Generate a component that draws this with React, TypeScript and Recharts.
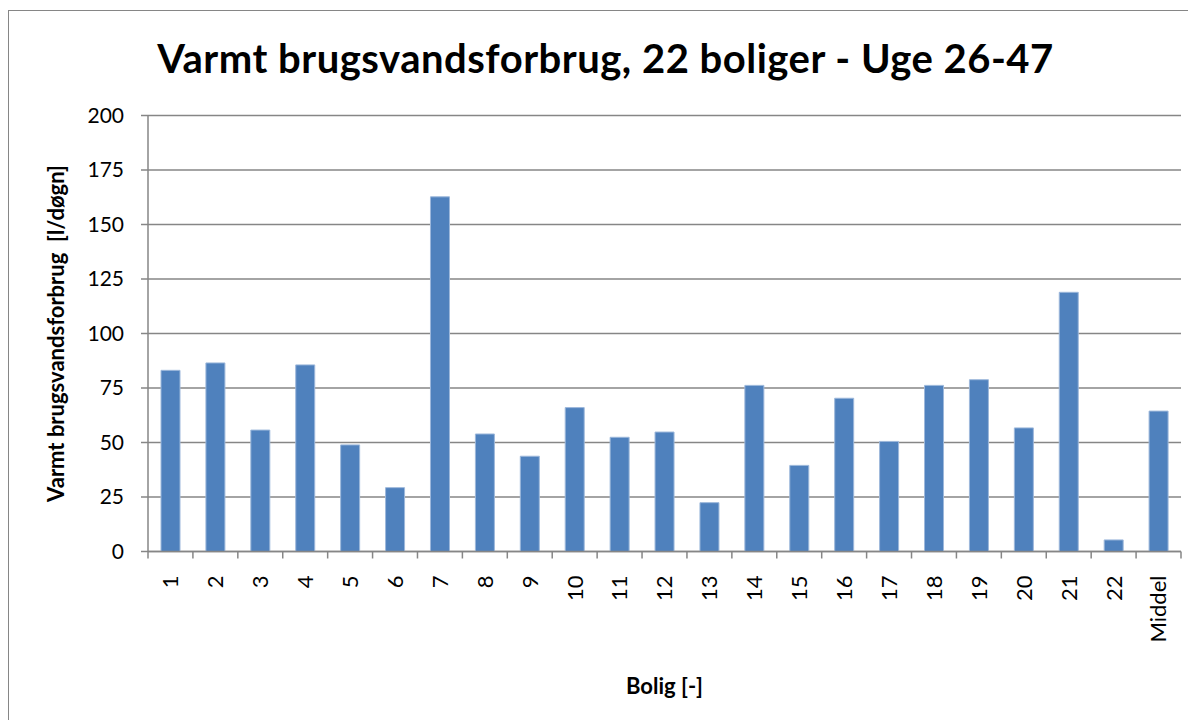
import React from "react";
import { BarChart, Bar, XAxis, YAxis, CartesianGrid } from "recharts";

// Varmt brugsvand per bolig, uge 26-47
const boliger = [
  "1", "2", "3", "4", "5", "6", "7", "8", "9", "10", "11",
  "12", "13", "14", "15", "16", "17", "18", "19", "20", "21", "22", "Middel",
];
const forbrug = [
  83.1, 86.5, 55.7, 85.6, 48.9, 29.3, 162.7, 53.9, 43.7, 66.0, 52.4,
  54.8, 22.4, 76.2, 39.5, 70.3, 50.5, 76.2, 78.8, 56.7, 118.9, 5.3, 64.4,
];
const yTicks = [0, 25, 50, 75, 100, 125, 150, 175, 200];

const data = boliger.map((b, i) => ({ bolig: b, forbrug: forbrug[i] }));

const FONT = "Lato, 'Open Sans', sans-serif";
const GREY = "#868686";
const BLUE = "#4F81BD";
const TICK_MARGIN = 24;
const TICK_LEN = 7;

// kategori-tekst + tickstreger mellem kategorierne (Excel-stil)
function RotTick({ x, y, payload, index }: any) {
  const half = payload.offset ?? 0;
  const axisY = y - TICK_MARGIN;
  const last = index === boliger.length - 1;
  return (
    <g>
      <line x1={x - half} x2={x - half} y1={axisY} y2={axisY + TICK_LEN} stroke={GREY} strokeWidth={1.5} />
      {last && <line x1={x + half} x2={x + half} y1={axisY} y2={axisY + TICK_LEN} stroke={GREY} strokeWidth={1.5} />}
      <text x={x} y={y} dy="0.36em" transform={`rotate(-90, ${x}, ${y})`}
        textAnchor="end" fontFamily={FONT} fontSize={22} fill="#000">
        {payload.value}
      </text>
    </g>
  );
}

function YTitle({ viewBox }: any) {
  const cx = viewBox.x + 55;
  const cy = viewBox.y + viewBox.height / 2;
  return (
    <text x={cx} y={cy} transform={`rotate(-90, ${cx}, ${cy})`} textAnchor="middle"
      fontFamily={FONT} fontWeight={700} fontSize={22} fill="#000">
      {"Varmt brugsvandsforbrug\u00a0\u00a0[l/døgn]"}
    </text>
  );
}

function XTitle({ viewBox }: any) {
  const cx = viewBox.x + viewBox.width / 2;
  return (
    <text x={cx} y={683} textAnchor="middle" fontFamily={FONT} fontWeight={700} fontSize={22} fill="#000">
      Bolig [-]
    </text>
  );
}

export default function App() {
  return (
    <div style={{ position: "relative", top: 2, width: 1200, height: 720, border: `1px solid ${GREY}`, boxSizing: "border-box", background: "#fff" }}>
      <div style={{ position: "absolute", left: 0, top: 25, width: 1193, textAlign: "center", fontFamily: FONT, fontWeight: 700, fontSize: 40, lineHeight: "44px", letterSpacing: 0.5, color: "#000" }}>
        Varmt brugsvandsforbrug, 22 boliger - Uge 26-47
      </div>
      <BarChart width={1185} height={709} data={data}
        margin={{ top: 104.5, right: 13, left: 0, bottom: 48.5 }} barSize={19}>
        <CartesianGrid vertical={false} stroke={GREY} strokeWidth={1.5} />
        <XAxis dataKey="bolig" height={120} interval={0} tickLine={false} tickSize={0} tickMargin={TICK_MARGIN}
          axisLine={{ stroke: GREY, strokeWidth: 1.5 }} tick={<RotTick />} label={<XTitle />} />
        <YAxis domain={[0, 200]} ticks={yTicks} width={139} tickSize={7} tickMargin={17}
          axisLine={{ stroke: GREY, strokeWidth: 1.5 }} tickLine={{ stroke: GREY, strokeWidth: 1.5 }}
          tick={{ fontFamily: FONT, fontSize: 21, fill: "#000" }} label={<YTitle />} />
        <Bar dataKey="forbrug" fill={BLUE} stroke="#9db8db" strokeWidth={1} isAnimationActive={false} />
      </BarChart>
    </div>
  );
}
